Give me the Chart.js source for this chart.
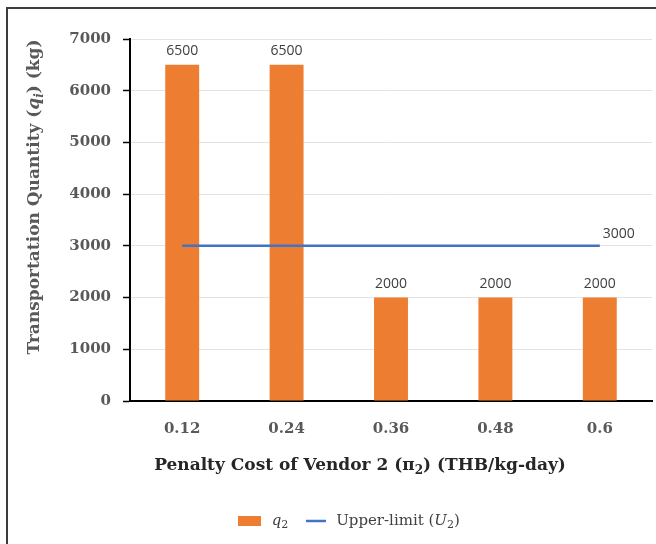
<!DOCTYPE html>
<html>
<head>
<meta charset="utf-8">
<script src="https://cdn.jsdelivr.net/npm/chart.js@4"></script>
<style>
  html, body { margin: 0; padding: 0; background: #fff; }
  #wrap { width: 656px; height: 544px; position: relative; }
</style>
</head>
<body>
<div id="wrap"><canvas id="c" width="656" height="544"></canvas></div>
<script>
// Penalty cost of vendor 2 (THB/kg-day)
const categories = ['0.12', '0.24', '0.36', '0.48', '0.6'];
// Transportation quantity q2 (kg)
const quantityQ2 = [6500, 6500, 2000, 2000, 2000];
// Upper limit U2 (kg)
const upperLimitU2 = [3000, 3000, 3000, 3000, 3000];
// Value axis ticks
const yTicks = [0, 1000, 2000, 3000, 4000, 5000, 6000, 7000];

const SERIF = '"DejaVu Serif", "Liberation Serif", serif';
const SANS = '"Open Sans", "Liberation Sans", sans-serif';
const ORANGE = '#ED7D31';
const BLUE = '#4472C4';

// Draws a run of text pieces (some italic, some subscript) centred on (0,0)
function richText(ctx, parts, size, weight, color) {
  const fontFor = p => {
    const s = p.sub ? Math.round(size * 0.72) : size;
    return (p.italic ? 'italic ' : '') + weight + ' ' + s + 'px ' + SERIF;
  };
  let total = 0;
  const widths = parts.map(p => { ctx.font = fontFor(p); const w = ctx.measureText(p.t).width; total += w; return w; });
  let x = -total / 2;
  ctx.fillStyle = color;
  ctx.textBaseline = 'middle';
  ctx.textAlign = 'left';
  parts.forEach((p, i) => {
    ctx.font = fontFor(p);
    ctx.fillText(p.t, x, p.sub ? size * 0.28 : 0);
    x += widths[i];
  });
  return total;
}

const decorations = {
  id: 'decorations',
  afterDraw(chart) {
    const ctx = chart.ctx;
    ctx.save();

    // frame
    ctx.fillStyle = '#3c3c3c';
    ctx.fillRect(6, 7, 650, 2);
    ctx.fillRect(6, 7, 2, 537);

    // value labels on bars
    const barMeta = chart.getDatasetMeta(0);
    ctx.font = '14px ' + SANS;
    ctx.fillStyle = '#404040';
    ctx.textAlign = 'center';
    ctx.textBaseline = 'bottom';
    barMeta.data.forEach((el, i) => {
      ctx.fillText(String(quantityQ2[i]), el.x, el.y - 7);
    });

    // label at the end of the upper-limit line
    const lineMeta = chart.getDatasetMeta(1);
    const last = lineMeta.data[lineMeta.data.length - 1];
    ctx.textAlign = 'left';
    ctx.fillText(String(upperLimitU2[upperLimitU2.length - 1]), last.x + 3, last.y - 5);

    // x axis title
    ctx.save();
    ctx.translate(360, 466);
    richText(ctx, [
      { t: 'Penalty Cost of Vendor 2 (' },
      { t: '\u03C0' },
      { t: '2', sub: true },
      { t: ') (THB/kg-day)' }
    ], 17, 'bold', '#262626');
    ctx.restore();

    // y axis title
    ctx.save();
    ctx.translate(35, 197);
    ctx.rotate(-Math.PI / 2);
    richText(ctx, [
      { t: 'Transportation Quantity (' },
      { t: 'q', italic: true },
      { t: 'i', italic: true, sub: true },
      { t: ') (kg)' }
    ], 17, 'bold', '#595959');
    ctx.restore();

    // legend
    ctx.fillStyle = ORANGE;
    ctx.fillRect(238, 516, 23, 10);
    ctx.save();
    ctx.translate(280, 521);
    richText(ctx, [{ t: 'q', italic: true }, { t: '2', sub: true }], 15, 'normal', '#404040');
    ctx.restore();
    ctx.strokeStyle = BLUE;
    ctx.lineWidth = 2.5;
    ctx.beginPath();
    ctx.moveTo(306, 521);
    ctx.lineTo(326, 521);
    ctx.stroke();
    ctx.save();
    ctx.translate(398, 521);
    richText(ctx, [
      { t: 'Upper-limit (' },
      { t: 'U', italic: true },
      { t: '2', sub: true },
      { t: ')' }
    ], 15, 'normal', '#404040');
    ctx.restore();

    ctx.restore();
  }
};

new Chart(document.getElementById('c'), {
  data: {
    labels: categories,
    datasets: [
      {
        type: 'bar',
        label: 'q2',
        data: quantityQ2,
        backgroundColor: ORANGE,
        borderWidth: 0,
        categoryPercentage: 1,
        barPercentage: 0.325,
        order: 2
      },
      {
        type: 'line',
        label: 'Upper-limit (U2)',
        data: upperLimitU2,
        borderColor: BLUE,
        borderWidth: 2.5,
        pointRadius: 0,
        fill: false,
        order: 1
      }
    ]
  },
  options: {
    responsive: false,
    animation: false,
    devicePixelRatio: 1,
    layout: { padding: { left: 0, right: 4, top: 39, bottom: 0 } },
    plugins: {
      legend: { display: false },
      tooltip: { enabled: false },
      title: { display: false }
    },
    scales: {
      x: {
        grid: { display: false },
        border: { display: true, color: '#000', width: 2 },
        ticks: {
          padding: 11,
          color: '#595959',
          font: { family: SERIF, size: 15, weight: 'bold' }
        },
        afterFit(s) { s.height = 143; }
      },
      y: {
        min: 0,
        max: 7000,
        afterBuildTicks(s) { s.ticks = yTicks.map(v => ({ value: v })); },
        grid: { color: '#e3e3e3', lineWidth: 1, tickColor: '#000', tickLength: 7, tickWidth: 1.5 },
        border: { display: true, color: '#000', width: 2 },
        ticks: {
          padding: 12,
          color: '#595959',
          font: { family: SERIF, size: 15, weight: 'bold' },
          callback: v => String(v)
        },
        afterFit(s) { s.width = 130; }
      }
    }
  },
  plugins: [decorations]
});
</script>
</body>
</html>
